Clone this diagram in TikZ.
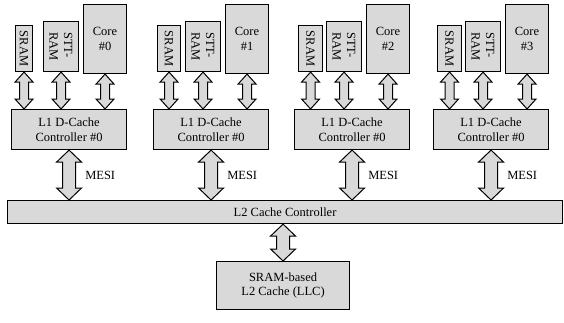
\documentclass[tikz,border=0pt]{standalone}
\usepackage{fontspec}
\setmainfont{Liberation Serif}
\usetikzlibrary{calc}

\definecolor{boxgray}{RGB}{217,217,217}

% double headed block arrow: top, bottom, half shaft, half head, head length
\newcommand{\biarrow}[5]{%
  \draw[blockarrow] (#1) -- ($(#1)+(#4,#5)$) -- ($(#1)+(#3,#5)$)
    -- ($(#2)+(#3,-#5)$) -- ($(#2)+(#4,-#5)$) -- (#2)
    -- ($(#2)+(-#4,-#5)$) -- ($(#2)+(-#3,-#5)$)
    -- ($(#1)+(-#3,#5)$) -- ($(#1)+(-#4,#5)$) -- cycle;}

\begin{document}
\begin{tikzpicture}[x=1pt,y=-1pt,
  unit/.style={draw,line width=1.1pt,fill=boxgray,inner sep=0pt,anchor=north west,
    align=center,font=\fontsize{12.5}{14.5}\selectfont},
  lbl/.style={inner sep=0pt,font=\fontsize{12.5}{14.5}\selectfont},
  blockarrow/.style={draw,line width=1pt,fill=boxgray,line join=miter}]
\useasboundingbox (0,0) rectangle (564,322);

% shared levels
\node[unit,minimum width=555pt,minimum height=23pt] (l2) at (7,200) {L2 Cache Controller};
\node[unit,minimum width=133pt,minimum height=48pt] (llc) at (216,261) {SRAM-based\\L2 Cache (LLC)};
\coordinate (l2b) at (llc.north |- l2.south);
\biarrow{l2b}{llc.north}{6.5}{12.5}{12}

% one group per core
\foreach \x/\sw [count=\i from 0] in {11/17,153/23,294/24,433/24}{
  \node[unit,minimum width=115pt,minimum height=40pt] (ctl\i) at (\x,109) {L1 D-Cache\\Controller \#0};
  \node[unit,minimum width=\sw pt,minimum height=46pt] (sram\i) at (\x+4,25) {};
  \node[lbl,rotate=-90] (sramtxt\i) at (sram\i.center) {SRAM};
  \node[unit,minimum width=35pt,minimum height=50pt] (stt\i) at (\x+32,21) {};
  \node[lbl,rotate=-90,align=left] (stttxt\i) at (stt\i.center) {STT-\\RAM};
  \node[unit,minimum width=43pt,minimum height=69pt] (core\i) at (\x+72,4) {Core\\\#\i};
  \coordinate (sramb\i) at (sram\i.south |- ctl\i.north);
  \coordinate (sttb\i) at (stt\i.south |- ctl\i.north);
  \coordinate (coreb\i) at (core\i.south |- ctl\i.north);
  \biarrow{sram\i.south}{sramb\i}{4.5}{9}{10}
  \biarrow{stt\i.south}{sttb\i}{4.5}{9}{10}
  \biarrow{core\i.south}{coreb\i}{4.5}{9}{10}
  \coordinate (ctlb\i) at (ctl\i.south |- l2.north);
  \biarrow{ctl\i.south}{ctlb\i}{6.5}{12.5}{12}
  \node[lbl,anchor=west] (mesi\i) at ($(ctl\i.south)!0.5!(ctlb\i)+(16,0)$) {MESI};
}
\end{tikzpicture}
\end{document}
